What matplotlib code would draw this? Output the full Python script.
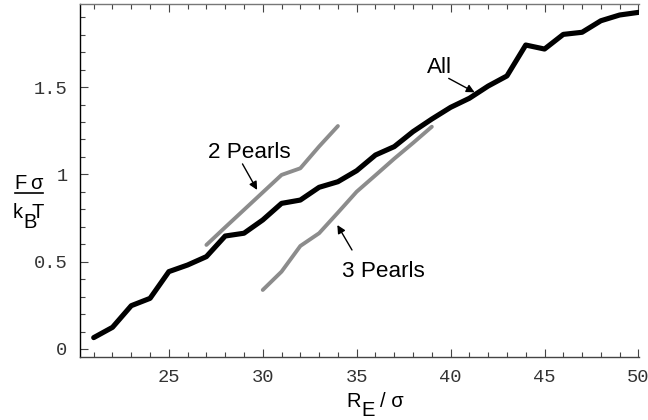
import matplotlib
matplotlib.use("Agg")
import matplotlib.pyplot as plt
from matplotlib.ticker import MultipleLocator, FixedLocator
from matplotlib.lines import Line2D

# ---- data ----
x_all = list(range(21, 51))
y_all = [0.065, 0.124, 0.248, 0.290, 0.443, 0.481, 0.529, 0.647, 0.663, 0.739,
         0.834, 0.853, 0.926, 0.958, 1.021, 1.111, 1.159, 1.245, 1.317, 1.384,
         1.436, 1.506, 1.564, 1.741, 1.718, 1.802, 1.814, 1.880, 1.913, 1.928]

x_2p = [27, 28, 29, 30, 31, 32, 33, 34]
y_2p = [0.596, 0.697, 0.797, 0.897, 0.997, 1.035, 1.160, 1.277]

x_3p = [30, 31, 32, 33, 34, 35, 36, 37, 38, 39]
y_3p = [0.338, 0.443, 0.590, 0.663, 0.781, 0.901, 0.995, 1.090, 1.180, 1.273]

x_ticks = [25, 30, 35, 40, 45, 50]
y_ticks = [0, 0.5, 1, 1.5]
y_ticklabels = ["0", "0.5", "1", "1.5"]

SANS = "Liberation Sans"
MONO = "Liberation Mono"
plt.rcParams['font.family'] = [SANS, 'DejaVu Sans']

W, H = 648, 420
fig = plt.figure(figsize=(W/100, H/100), dpi=100)
ax = fig.add_axes([80/W, 1-357/H, (639-80)/W, (357-4)/H])

def px(x, y):
    return (x/W, 1-y/H)

ax.plot(x_2p, y_2p, color="#8c8c8c", lw=2.8, solid_capstyle='round', solid_joinstyle='round')
ax.plot(x_3p, y_3p, color="#8c8c8c", lw=2.8, solid_capstyle='round', solid_joinstyle='round')
ax.plot(x_all, y_all, color="black", lw=3.7, solid_capstyle='round', solid_joinstyle='round')

ax.set_xlim(20.27, 50.03)
ax.set_ylim(-0.046, 1.976)

ax.spines['right'].set_visible(False)
ax.spines['left'].set_color('black')
ax.spines['top'].set_color('#777777')
ax.spines['bottom'].set_color('#444444')
for s in ax.spines.values():
    s.set_linewidth(1.0)

ax.xaxis.set_major_locator(FixedLocator(x_ticks))
ax.xaxis.set_minor_locator(MultipleLocator(1))
ax.yaxis.set_major_locator(FixedLocator(y_ticks))
ax.yaxis.set_minor_locator(MultipleLocator(0.1))
ax.set_yticklabels(y_ticklabels)

ax.tick_params(axis='x', which='both', direction='in', top=True, bottom=True, colors='#444444', width=0.8)
ax.tick_params(axis='y', which='both', direction='in', left=True, right=False, colors='#444444', width=0.8)
ax.tick_params(which='major', length=6)
ax.tick_params(which='minor', length=3.5)
ax.tick_params(axis='x', labelcolor='#333333', pad=9)
ax.tick_params(axis='y', labelcolor='#333333', pad=9)
for lab in ax.get_xticklabels() + ax.get_yticklabels():
    lab.set_fontfamily(MONO)
    lab.set_fontsize(13.5)

FS = 16.2   # annotation text
LFS = 14.5  # axis label text
# x-axis label  R_E / sigma
fig.text(*px(346.5, 407), "R", ha='left', va='baseline', fontsize=LFS)
fig.text(*px(361.5, 416), "E", ha='left', va='baseline', fontsize=LFS)
fig.text(*px(379.5, 407), "/ σ", ha='left', va='baseline', fontsize=LFS)

# y-axis label  F sigma / k_B T
fig.text(*px(14, 189), "F", ha='left', va='baseline', fontsize=LFS)
fig.text(*px(30, 189), "σ", ha='left', va='baseline', fontsize=LFS)
fig.add_artist(Line2D([15/W, 42.7/W], [1-193.5/H, 1-193.5/H], color='black', lw=1.2))
fig.text(*px(13, 218), "k", ha='left', va='baseline', fontsize=LFS)
fig.text(*px(23, 228), "B", ha='left', va='baseline', fontsize=LFS)
fig.text(*px(31, 218), "T", ha='left', va='baseline', fontsize=LFS)

# annotations
arrow = dict(arrowstyle='-|>', color='black', lw=1.0, mutation_scale=12, shrinkA=0, shrinkB=0)
ax.annotate("", xy=(41.28, 1.47), xytext=(39.9, 1.55), arrowprops=arrow)
ax.text(39.4, 1.615, "All", fontsize=FS, ha='center', va='center')
ax.annotate("", xy=(29.7, 0.911), xytext=(28.92, 1.06), arrowprops=arrow)
ax.text(29.3, 1.128, "2 Pearls", fontsize=FS, ha='center', va='center')
ax.annotate("", xy=(33.97, 0.71), xytext=(34.75, 0.567), arrowprops=arrow)
ax.text(36.4, 0.441, "3 Pearls", fontsize=FS, ha='center', va='center')

fig.savefig("out.png", dpi=100)
